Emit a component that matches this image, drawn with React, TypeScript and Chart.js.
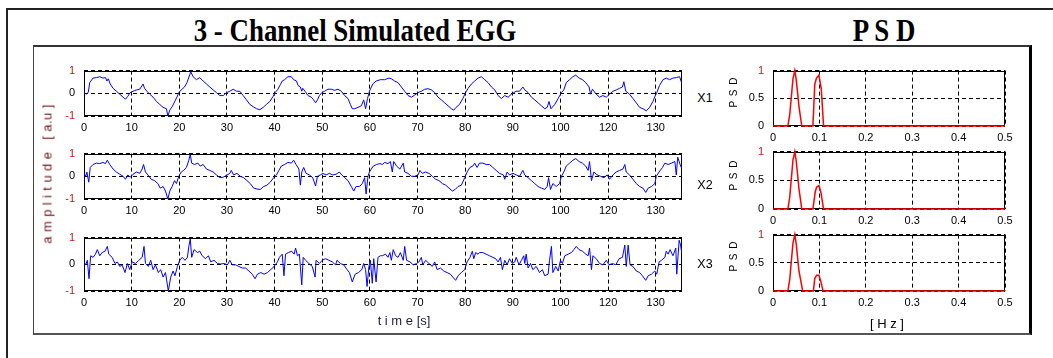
import React, { useEffect, useRef } from 'react';
import { Chart, registerables } from 'chart.js';

Chart.register(...registerables);

// ---------- DATA ----------
const timeTickValues = [0, 10, 20, 30, 40, 50, 60, 70, 80, 90, 100, 110, 120];
const timeTickLabels = ['0', '10', '20', '30', '40', '50', '60', '70', '80', '90', '100', '120', '130'];
const timeMin = 0;
const timeMax = 125.5;
const ampTickValues = [-1, 0, 1];
const ampTickLabels = ['-1', '0', '1'];
const freqTickValues = [0, 0.1, 0.2, 0.3, 0.4, 0.5];
const freqTickLabels = ['0', '0.1', '0.2', '0.3', '0.4', '0.5'];
const psdTickValues = [0, 0.5, 1];
const psdTickLabels = ['0', '0.5', '1'];
const channelNames = ['X1', 'X2', 'X3'];

const x1Samples: [number, number][] = [
  [0,0.03],[0.5,-0.04],[0.9,0.05],[1.2,0.47],[1.9,0.67],[2.6,0.69],[3.3,0.73],[4.0,0.67],[4.55,0.69],[4.8,0.54],[5.1,0.64],[5.5,0.41],[6.1,0.22],[6.8,0.09],[7.5,-0.04],[8.2,-0.17],[8.7,-0.26],[9.2,-0.13],[9.7,0.03],[10.3,0.09],[11.0,0.15],[11.7,0.18],[12.4,0.41],[12.7,0.22],[13.2,0.09],[13.8,-0.04],[14.5,-0.17],[15.2,-0.36],[15.9,-0.49],[16.6,-0.62],[17.3,-0.68],[17.6,-1.0],[18.0,-0.74],[18.5,-0.59],[19.0,-0.38],[19.5,-0.17],[19.9,0.03],[20.4,0.15],[21.1,0.28],[21.6,0.47],[22.2,0.82],[22.4,0.95],[22.9,0.73],[23.6,0.6],[24.3,0.69],[25.0,0.54],[25.7,0.41],[26.4,0.28],[27.1,0.15],[27.8,0.03],[28.5,-0.1],[29.2,-0.1],[29.9,0.03],[30.6,0.09],[31.3,0.18],[32.0,0.09],[32.7,0.09],[33.4,-0.1],[34.1,-0.29],[34.8,-0.49],[35.5,-0.59],[36.2,-0.68],[36.9,-0.72],[37.6,-0.62],[38.3,-0.49],[39.0,-0.36],[39.7,-0.13],[40.1,0.03],[40.7,0.18],[41.2,0.38],[41.6,0.54],[42.1,0.6],[42.8,0.73],[43.5,0.73],[44.0,0.6],[44.6,0.54],[44.9,0.35],[45.4,0.28],[45.7,0.09],[45.9,0.22],[46.4,0.09],[47.0,-0.1],[47.7,-0.17],[48.2,-0.29],[48.6,-0.42],[49.0,-0.29],[49.4,-0.1],[49.9,0.03],[50.5,0.09],[51.2,0.18],[51.9,0.18],[52.6,0.13],[53.3,0.18],[54.0,0.09],[54.7,-0.1],[55.4,-0.23],[55.9,-0.49],[56.3,-0.68],[56.8,-0.68],[57.5,-0.62],[58.2,-0.55],[58.7,-0.29],[59.1,-0.68],[59.5,-0.23],[59.9,0.09],[60.6,0.41],[61.3,0.54],[62.2,0.6],[63.1,0.6],[64.0,0.67],[64.5,0.64],[65.2,0.54],[65.9,0.47],[66.6,0.28],[67.3,0.09],[68.0,-0.1],[68.7,-0.17],[69.4,-0.08],[70.1,0.03],[70.8,0.09],[71.5,0.18],[72.2,0.2],[72.9,0.15],[73.6,0.03],[74.3,-0.17],[75.0,-0.29],[75.7,-0.42],[76.4,-0.55],[77.1,-0.68],[77.6,-0.74],[78.1,-0.62],[78.8,-0.49],[79.5,-0.23],[80.1,0.03],[80.6,0.22],[81.3,0.41],[82.0,0.54],[82.7,0.67],[83.4,0.73],[84.1,0.6],[84.8,0.47],[85.5,0.28],[86.2,0.15],[86.9,-0.1],[87.6,-0.23],[88.3,-0.1],[89.0,-0.17],[89.7,-0.04],[90.2,0.03],[90.7,0.09],[91.4,0.09],[92.1,0.28],[92.5,0.15],[93.2,0.03],[93.9,-0.17],[94.6,-0.29],[95.3,-0.42],[96.0,-0.55],[96.7,-0.68],[97.2,-0.62],[97.6,-0.36],[98.0,-0.68],[98.8,-0.49],[99.5,-0.23],[100.2,0.03],[100.7,0.15],[101.2,0.47],[101.9,0.6],[102.6,0.73],[103.2,0.8],[103.9,0.67],[104.6,0.6],[105.3,0.47],[106.0,0.28],[106.3,-0.04],[106.7,0.18],[107.5,-0.04],[108.2,-0.17],[108.9,-0.1],[109.6,-0.17],[110.3,-0.04],[111.0,0.09],[111.7,0.15],[112.4,0.22],[113.0,0.28],[113.3,0.51],[113.7,0.09],[114.5,-0.04],[115.2,-0.23],[115.9,-0.42],[116.6,-0.62],[117.3,-0.68],[118.0,-0.77],[118.7,-0.62],[119.4,-0.36],[119.9,-0.1],[120.2,0.03],[120.8,0.35],[121.5,0.6],[122.2,0.67],[122.9,0.6],[123.6,0.67],[124.3,0.69],[125.0,0.73],[125.5,0.41]
];

const x2Samples: [number, number][] = [
  [0,0.13],[0.35,0],[0.6,0.19],[1.0,-0.26],[1.3,0.39],[1.9,0.52],[2.6,0.58],[3.3,0.56],[4.0,0.61],[4.5,0.56],[4.9,0.71],[5.4,0.52],[6.1,0.32],[6.8,0.19],[7.5,0.09],[8.2,0],[8.7,-0.13],[9.2,0.06],[9.7,-0.04],[10.3,0.09],[11.0,0.19],[11.7,0.13],[12.2,0.32],[12.5,0.52],[12.9,0.19],[13.4,0.06],[14.1,-0.13],[14.8,-0.19],[15.5,-0.32],[16.0,-0.52],[16.6,-0.45],[17.1,-0.65],[17.6,-1.0],[18.0,-0.65],[18.5,-0.45],[19.0,-0.19],[19.4,-0.32],[19.9,0],[20.4,0.19],[20.9,0.26],[21.5,0.39],[22.0,0.71],[22.3,0.97],[22.6,0.58],[23.2,0.52],[23.9,0.58],[24.4,0.45],[25.0,0.52],[25.7,0.32],[26.4,0.26],[27.1,0.19],[27.8,0.06],[28.5,-0.06],[29.2,-0.04],[29.9,0.04],[30.6,0.13],[30.9,0.26],[31.4,0.06],[32.1,0.13],[32.8,0],[33.5,-0.06],[34.2,-0.19],[34.9,-0.32],[35.6,-0.52],[36.3,-0.56],[37.0,-0.58],[37.7,-0.45],[38.4,-0.39],[39.1,-0.26],[39.8,-0.06],[40.4,0.06],[40.9,0.26],[41.4,0.45],[42.1,0.52],[42.8,0.61],[43.5,0.58],[44.0,0.71],[44.5,0.52],[45.1,0.32],[45.4,-0.39],[45.7,0.19],[46.1,0.39],[46.6,0.13],[47.3,0.06],[48.0,-0.06],[48.6,-0.43],[49.0,0],[49.6,0.06],[50.1,0.13],[50.8,0.06],[51.5,0.13],[52.2,0.06],[52.9,0.09],[53.6,0.19],[54.1,0.06],[54.7,-0.06],[55.4,-0.19],[56.1,-0.45],[56.6,-0.65],[57.1,-0.45],[57.8,-0.45],[58.4,-0.32],[58.9,-0.06],[59.2,-0.78],[59.6,0],[59.9,0.19],[60.7,0.45],[61.4,0.52],[62.1,0.56],[62.6,0.52],[63.1,0.61],[63.8,0.56],[64.3,0.65],[64.7,0.19],[65.0,0.65],[65.6,0.45],[66.3,0.32],[67.0,0.58],[67.3,0.19],[68.0,0.13],[68.7,0],[69.4,0],[70.1,0.06],[70.5,0.26],[71.0,0.13],[71.7,0.19],[72.4,0.13],[73.1,0],[73.8,-0.13],[74.5,-0.19],[75.2,-0.32],[75.9,-0.39],[76.6,-0.52],[77.3,-0.65],[77.9,-0.58],[78.5,-0.45],[79.2,-0.39],[79.9,-0.06],[80.4,0.19],[81.0,0.39],[81.6,0.45],[82.0,0.58],[82.5,0.39],[83.0,0.58],[83.7,0.58],[84.4,0.52],[85.1,0.52],[85.8,0.39],[86.5,0.26],[87.2,0.13],[88.0,0.06],[88.3,-0.13],[88.8,0.19],[89.3,0.06],[90.0,0.13],[90.7,0.06],[91.4,0],[92.1,0.26],[92.5,0.06],[93.2,-0.06],[93.9,-0.19],[94.6,-0.32],[95.3,-0.45],[96.0,-0.52],[96.7,-0.58],[97.2,-0.45],[97.5,-0.06],[97.9,-0.58],[98.4,-0.32],[99.1,-0.45],[99.8,-0.32],[100.2,0],[100.7,0.19],[101.2,0.45],[101.9,0.58],[102.6,0.71],[103.2,0.78],[103.9,0.65],[104.6,0.58],[105.3,0.45],[105.8,0.26],[106.1,0.65],[106.5,-0.19],[107.0,0.19],[107.7,0.06],[108.4,0],[109.1,-0.06],[109.8,0.06],[110.3,-0.13],[111.0,0.06],[111.7,0.19],[112.4,0.26],[113.1,0.32],[113.5,0.52],[113.8,0.19],[114.5,0.06],[115.2,-0.13],[115.9,-0.32],[116.6,-0.45],[117.3,-0.52],[117.9,-0.71],[118.4,-0.52],[119.1,-0.45],[119.8,-0.32],[120.1,0],[120.7,0.19],[121.4,0.39],[121.9,0.58],[122.6,0.52],[123.3,0.58],[124.0,0.65],[124.3,0.06],[124.6,0.84],[125.1,0.52],[125.5,0.32]
];

const x3Samples: [number, number][] = [
  [0,0.09],[0.35,-0.02],[0.7,0.15],[1.05,-0.54],[1.4,0.32],[1.9,0.26],[2.4,0.38],[2.8,0.55],[3.3,0.32],[3.8,0.44],[4.4,0.49],[4.9,0.67],[5.2,0.38],[5.9,0.26],[6.5,0.03],[7.0,0.09],[7.5,-0.08],[8.0,-0.02],[8.6,-0.31],[9.1,0.03],[9.6,-0.2],[10.1,0.09],[10.8,0.03],[11.5,0.15],[12.2,0.26],[12.6,0.67],[12.9,0.03],[13.5,-0.08],[14.0,0.15],[14.5,-0.2],[15.0,-0.02],[15.6,-0.31],[16.1,-0.2],[16.6,-0.48],[17.1,-0.31],[17.7,-1.0],[18.2,-0.48],[18.7,-0.25],[19.1,-0.43],[19.6,-0.08],[20.1,0.15],[20.6,0.26],[21.2,0.15],[21.7,0.26],[22.0,0.67],[22.3,0.95],[22.6,0.26],[23.1,0.55],[23.8,0.44],[24.3,0.49],[24.8,0.32],[25.5,0.21],[26.1,0.32],[26.6,0.09],[27.3,0.15],[28.0,0.03],[28.7,0.01],[29.4,0.03],[30.1,-0.02],[30.6,0.15],[31.1,-0.02],[31.8,-0.02],[32.5,-0.08],[33.2,-0.14],[33.9,-0.14],[34.6,-0.25],[35.3,-0.37],[35.9,-0.54],[36.4,-0.37],[37.1,-0.31],[37.8,-0.37],[38.5,-0.31],[39.2,-0.2],[39.9,-0.08],[40.6,0.09],[41.0,0.26],[41.6,0.38],[41.96,-0.43],[42.3,0.38],[42.9,0.44],[43.6,0.49],[44.1,0.38],[44.4,0.61],[44.8,0.32],[45.2,0.38],[45.7,-0.77],[46.0,0.26],[46.5,0.15],[47.2,0.03],[47.9,-0.08],[48.5,-0.48],[48.7,0.15],[49.4,0.03],[50.0,0.15],[50.7,0.21],[51.4,0.15],[52.1,0.09],[52.8,-0.02],[53.1,0.15],[53.8,0.03],[54.5,-0.02],[55.2,-0.2],[55.7,-0.31],[56.3,-0.66],[56.9,-0.37],[57.6,-0.31],[58.3,-0.2],[58.7,0.03],[59.1,-0.2],[59.4,-0.83],[59.8,-0.08],[60.1,0.15],[60.5,-0.71],[60.8,0.21],[61.3,-0.66],[61.7,0.26],[62.2,0.32],[62.6,0.32],[63.3,0.38],[63.8,0.26],[64.2,0.44],[64.5,0.15],[64.9,0.55],[65.4,0.32],[65.9,0.26],[66.4,0.44],[67.0,0.15],[67.3,0.67],[67.7,0.15],[68.4,0.09],[69.1,-0.02],[69.8,0.03],[70.3,0.09],[70.8,0.26],[71.1,-0.02],[71.7,0.15],[72.4,0.03],[73.1,-0.08],[73.6,0.09],[74.1,-0.2],[74.8,-0.14],[75.5,-0.25],[76.2,-0.31],[76.9,-0.37],[77.4,-0.48],[78.0,-0.6],[78.5,-0.43],[79.2,-0.31],[79.9,-0.2],[80.4,0.09],[81.0,0.26],[81.5,0.49],[81.8,0.21],[82.2,0.44],[82.7,0.38],[83.0,0.44],[83.7,0.44],[84.4,0.38],[85.1,0.32],[85.8,0.26],[86.4,0.21],[86.9,0.09],[87.4,0.26],[87.8,-0.2],[88.3,0.15],[88.8,-0.02],[89.3,0.21],[89.9,0.03],[90.4,0.09],[90.7,0.26],[91.3,-0.02],[91.8,0.15],[92.3,0.32],[92.5,0.03],[92.8,0.38],[93.2,-0.14],[93.7,0.03],[94.2,-0.2],[94.9,-0.08],[95.6,-0.31],[96.2,-0.2],[96.7,-0.43],[97.4,-0.37],[97.7,0.15],[98.1,0.67],[98.4,-0.31],[99.0,-0.08],[99.5,-0.25],[100.0,0.15],[100.4,0.03],[100.9,0.32],[101.6,0.38],[102.3,0.44],[102.8,0.55],[103.3,0.67],[103.9,0.55],[104.6,0.49],[105.3,0.38],[105.8,0.32],[106.1,0.61],[106.5,-0.2],[106.8,0.32],[107.5,0.21],[108.2,0.03],[108.9,-0.02],[109.6,0.15],[110.2,-0.02],[110.9,0.03],[111.6,-0.02],[112.3,0.21],[113.0,0.26],[113.5,0.72],[113.8,-0.08],[114.2,0.72],[114.6,-0.02],[115.2,-0.08],[115.9,-0.25],[116.6,-0.31],[117.2,-0.43],[117.9,-0.6],[118.4,-0.43],[119.1,-0.37],[119.8,-0.25],[120.2,-0.37],[120.7,0.09],[121.2,0.15],[121.9,0.26],[122.2,0.49],[122.6,0.38],[123.0,0.55],[123.6,0.32],[124.2,0.61],[124.4,-0.37],[124.9,0.9],[125.2,0.72],[125.5,0.38]
];

const psd1Samples: [number, number][] = [
  [0,0],[0.032,0],[0.036,0.2],[0.043,0.85],[0.047,1.0],[0.05,0.84],[0.056,0.35],[0.062,0],[0.086,0],[0.09,0.75],[0.0935,0.86],[0.099,0.92],[0.104,0.67],[0.109,0],[0.5,0]
];
const psd2Samples: [number, number][] = [
  [0,0],[0.032,0],[0.036,0.2],[0.043,0.85],[0.047,1.0],[0.05,0.84],[0.056,0.35],[0.062,0],[0.086,0],[0.091,0.3],[0.094,0.38],[0.099,0.41],[0.103,0.3],[0.109,0],[0.5,0]
];
const psd3Samples: [number, number][] = [
  [0,0],[0.032,0],[0.036,0.2],[0.043,0.85],[0.047,1.0],[0.05,0.84],[0.056,0.35],[0.064,0],[0.087,0],[0.09,0.22],[0.094,0.28],[0.099,0.28],[0.103,0.17],[0.108,0],[0.5,0]
];

// ---------- LAYOUT ----------
const FONT = "'Liberation Sans', Arial, Helvetica, sans-serif";
const SERIF = "'Liberation Serif', 'Times New Roman', serif";
const Y_AXIS_W = 36;
const PAD_TOP = 10;
const PAD_RIGHT = 14;
const X_AXIS_H = 26;

type Box = { left: number; top: number; right: number; bottom: number };

const boxPlugin = {
  id: 'frameBox',
  beforeDatasetsDraw(chart: any) {
    const { ctx, chartArea: a } = chart;
    ctx.save();
    ctx.setLineDash([]);
    ctx.strokeStyle = '#000';
    ctx.lineWidth = 1;
    ctx.strokeRect(Math.round(a.left) + 0.5, Math.round(a.top) + 0.5, Math.round(a.right - a.left) - 1, Math.round(a.bottom - a.top) - 1);
    ctx.restore();
  },
};

type PanelProps = {
  box: Box;
  samples: [number, number][];
  color: string;
  lineWidth: number;
  clip: boolean;
  xMin: number;
  xMax: number;
  xTicks: number[];
  xLabels: string[];
  yMin: number;
  yMax: number;
  yTicks: number[];
  yLabels: string[];
};

function Panel(p: PanelProps) {
  const ref = useRef<HTMLCanvasElement | null>(null);
  const w = Y_AXIS_W + (p.box.right - p.box.left) + PAD_RIGHT;
  const h = PAD_TOP + (p.box.bottom - p.box.top) + X_AXIS_H;
  useEffect(() => {
    if (!ref.current) return;
    const tickFont = { family: FONT, size: 11 };
    const chart = new Chart(ref.current, {
      type: 'line',
      data: {
        datasets: [
          {
            data: p.samples.map(([x, y]) => ({ x, y })),
            borderColor: p.color,
            borderWidth: p.lineWidth,
            pointRadius: 0,
            tension: 0,
            fill: false,
            clip: p.clip ? undefined : false,
          } as any,
        ],
      },
      options: {
        animation: false,
        responsive: false,
        maintainAspectRatio: false,
        devicePixelRatio: 1,
        events: [],
        layout: { padding: { top: PAD_TOP, right: PAD_RIGHT, left: 0, bottom: 0 } },
        plugins: { legend: { display: false }, tooltip: { enabled: false }, title: { display: false } },
        scales: {
          x: {
            type: 'linear',
            min: p.xMin,
            max: p.xMax,
            afterBuildTicks: (s: any) => {
              s.ticks = p.xTicks.map((v) => ({ value: v }));
            },
            afterFit: (s: any) => {
              s.height = X_AXIS_H;
            },
            ticks: {
              autoSkip: false,
              maxRotation: 0,
              minRotation: 0,
              padding: 5,
              font: tickFont,
              color: '#000',
              callback: (_v: any, i: number) => p.xLabels[i],
            },
            grid: { color: '#000', lineWidth: 1, drawTicks: false },
            border: { display: false, dash: [4, 3] },
          },
          y: {
            type: 'linear',
            min: p.yMin,
            max: p.yMax,
            afterBuildTicks: (s: any) => {
              s.ticks = p.yTicks.map((v) => ({ value: v }));
            },
            afterFit: (s: any) => {
              s.width = Y_AXIS_W;
            },
            ticks: {
              padding: 9,
              font: tickFont,
              color: (c: any) => (c.tick && Math.abs(c.tick.value) === 1 ? '#c41a1a' : '#000'),
              callback: (_v: any, i: number) => p.yLabels[i],
            },
            grid: { color: '#000', lineWidth: 1, drawTicks: false },
            border: { display: false, dash: [4, 3] },
          },
        },
      } as any,
      plugins: [boxPlugin],
    });
    return () => chart.destroy();
  }, []);
  return (
    <canvas
      ref={ref}
      width={w}
      height={h}
      style={{ position: 'absolute', left: p.box.left - Y_AXIS_W, top: p.box.top - PAD_TOP, width: w, height: h }}
    />
  );
}

function Label(props: { x: number; y: number; text: string; size: number; color?: string; rotate?: boolean; family?: string; weight?: string; spacing?: number; scaleX?: number }) {
  const t = `translate(-50%, -50%)${props.rotate ? ' rotate(-90deg)' : ''}${props.scaleX ? ` scaleX(${props.scaleX})` : ''}`;
  return (
    <div
      style={{
        position: 'absolute',
        left: props.x,
        top: props.y,
        transform: t,
        fontFamily: props.family || FONT,
        fontSize: props.size,
        fontWeight: (props.weight as any) || 'normal',
        color: props.color || '#000',
        whiteSpace: 'pre',
        lineHeight: 1,
        letterSpacing: props.spacing ? `${props.spacing}px` : undefined,
      }}
    >
      {props.text}
    </div>
  );
}

export default function App() {
  const eggPanels = [
    { samples: x1Samples, box: { left: 84, right: 682, top: 65, bottom: 116 }, labelY: 98 },
    { samples: x2Samples, box: { left: 84, right: 682, top: 148, bottom: 199 }, labelY: 185 },
    { samples: x3Samples, box: { left: 84, right: 682, top: 232, bottom: 291 }, labelY: 264 },
  ];
  const psdPanels = [
    { samples: psd1Samples, box: { left: 773, right: 1005, top: 65, bottom: 126 }, labelY: 92 },
    { samples: psd2Samples, box: { left: 773, right: 1005, top: 146, bottom: 209 }, labelY: 175 },
    { samples: psd3Samples, box: { left: 773, right: 1005, top: 229, bottom: 291 }, labelY: 256 },
  ];
  return (
    <div style={{ position: 'fixed', left: 0, top: 0, width: 1053, height: 358, background: '#fff', overflow: 'hidden' }}>
      {/* outer frame (top-left corner of a larger box) */}
      <div style={{ position: 'absolute', left: 6, top: 8, width: 1100, height: 400, borderLeft: '2px solid #222', borderTop: '2px solid #222' }} />
      {/* inner frame */}
      <div
        style={{
          position: 'absolute',
          left: 33,
          top: 45,
          width: 1032 - 33,
          height: 335 - 45,
          boxSizing: 'border-box',
          borderLeft: '1px solid #444',
          borderTop: '2px solid #333',
          borderBottom: '2px solid #555',
          borderRight: '3px solid #000',
        }}
      />
      <Label x={355} y={30} text="3 - Channel Simulated EGG" size={32} family={SERIF} weight="bold" scaleX={0.84} />
      <Label x={884} y={30} text="P S D" size={32} family={SERIF} weight="bold" scaleX={0.84} />

      {eggPanels.map((e, i) => (
        <Panel
          key={`egg${i}`}
          box={e.box}
          samples={e.samples}
          color="#0000ff"
          lineWidth={1}
          clip={true}
          xMin={timeMin}
          xMax={timeMax}
          xTicks={timeTickValues}
          xLabels={timeTickLabels}
          yMin={-1}
          yMax={1}
          yTicks={ampTickValues}
          yLabels={ampTickLabels}
        />
      ))}
      {psdPanels.map((e, i) => (
        <Panel
          key={`psd${i}`}
          box={e.box}
          samples={e.samples}
          color="#ff0000"
          lineWidth={1.5}
          clip={false}
          xMin={0}
          xMax={0.5}
          xTicks={freqTickValues}
          xLabels={freqTickLabels}
          yMin={0}
          yMax={1}
          yTicks={psdTickValues}
          yLabels={psdTickLabels}
        />
      ))}

      {eggPanels.map((e, i) => (
        <Label key={`xl${i}`} x={705} y={e.labelY} text={channelNames[i]} size={12.5} />
      ))}
      {psdPanels.map((e, i) => (
        <Label key={`pl${i}`} x={734} y={e.labelY} text="P S D" size={10} rotate spacing={1} />
      ))}
      <Label x={47} y={174} text="a m p l i t u d e   [ a.u ]" size={13} rotate spacing={0.4} color="#6e1414" />
      <Label x={404} y={320} text="t i m e [s]" size={13} color="#1c1c48" />
      <Label x={887} y={323} text="[ H z ]" size={13} />
    </div>
  );
}
